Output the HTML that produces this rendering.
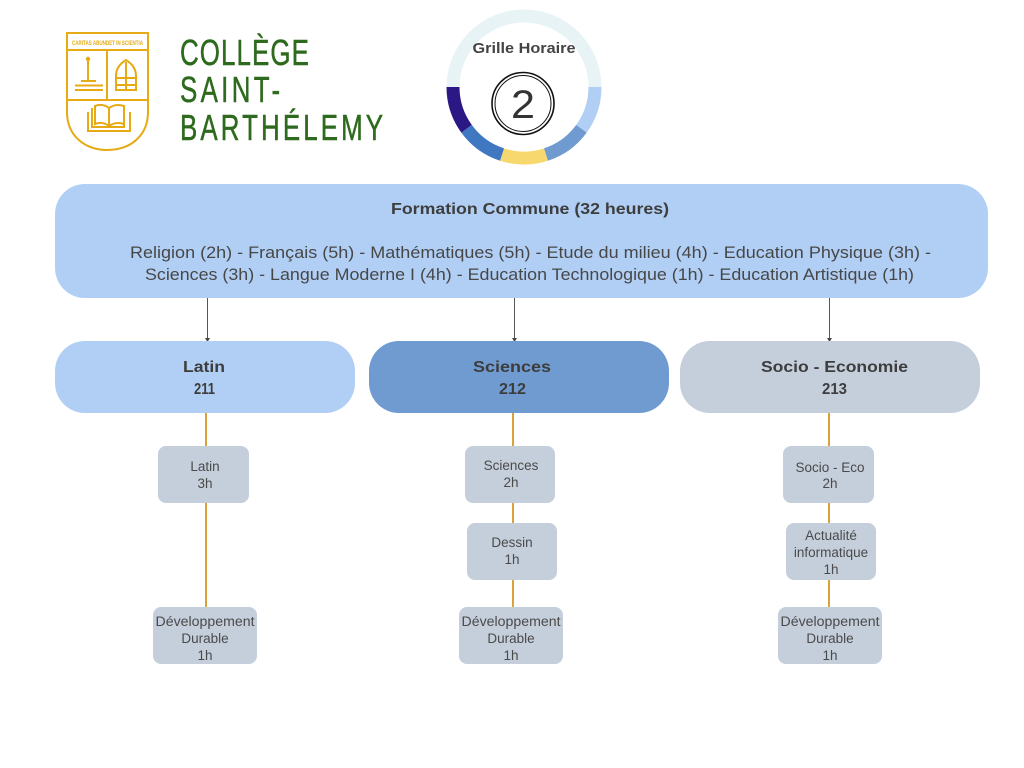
<!DOCTYPE html>
<html><head><meta charset="utf-8"><style>
html,body{margin:0;padding:0;background:#fff;}
svg{display:block;}
text{font-family:"Liberation Sans",sans-serif;}
</style></head><body>
<svg width="1024" height="768" viewBox="0 0 1024 768" xmlns="http://www.w3.org/2000/svg">
<rect width="1024" height="768" fill="#fff"/>

<!-- Shield logo -->
<g fill="none" stroke="#e6aa14" stroke-width="2">
  <path d="M67,33 H148 V112 C148,136 130,150 107.5,150 C85,150 67,136 67,112 Z"/>
  <line x1="67" y1="50" x2="148" y2="50"/>
  <line x1="67" y1="100" x2="148" y2="100"/>
  <line x1="107" y1="50" x2="107" y2="100"/>
  <!-- lectern -->
  <line x1="88" y1="60" x2="88" y2="81"/>
  <line x1="81" y1="81" x2="96" y2="81"/>
  <line x1="75" y1="85.5" x2="103" y2="85.5"/>
  <line x1="75" y1="90" x2="103" y2="90"/>
  <!-- mitre -->
  <path d="M116,90 V76 C116,68 121,63 126,60 C131,63 136,68 136,76 V90 Z"/>
  <line x1="126" y1="62" x2="126" y2="90"/>
  <line x1="116" y1="78" x2="136" y2="78"/>
  <line x1="116" y1="85" x2="136" y2="85"/>
  <!-- book -->
  <path d="M92,108 V127 H108 H124 V108"/>
  <path d="M95,106 C100,104 105,105 109,108 C113,105 118,104 124,106 V124 C118,122 113,123 109,126 C105,123 100,122 95,124 Z"/>
  <line x1="109" y1="108" x2="109" y2="126"/>
  <path d="M88,112 V131 H130 V112"/>
</g>
<circle cx="88" cy="59" r="2.2" fill="#e6aa14"/>
<text x="72" y="45" font-size="6.5" font-weight="bold" fill="#e6aa14" textLength="71" lengthAdjust="spacingAndGlyphs">CARITAS ABUNDET IN SCIENTIA</text>

<!-- College name -->
<g fill="#2e6a1e" stroke="#2e6a1e" stroke-width="0.5" font-size="36">
  <text transform="translate(180,65) scale(0.72,1)" x="0" y="0" textLength="179" lengthAdjust="spacing">COLLÈGE</text>
  <text transform="translate(180,102) scale(0.72,1)" x="0" y="0" textLength="139" lengthAdjust="spacing">SAINT-</text>
  <text transform="translate(180,140) scale(0.72,1)" x="0" y="0" textLength="282" lengthAdjust="spacing">BARTHÉLEMY</text>
</g>

<!-- Ring graphic -->
<g fill="none" stroke-width="13">
  <path d="M453,87 A71,71 0 0 1 595,87" stroke="#e8f3f5"/>
  <path d="M595,87 A71,71 0 0 1 581.44,128.75" stroke="#b1cff5"/>
  <path d="M581.44,128.75 A71,71 0 0 1 545.94,154.53" stroke="#6f9bd1"/>
  <path d="M545.94,154.53 A71,71 0 0 1 502.06,154.53" stroke="#f7d86f"/>
  <path d="M502.06,154.53 A71,71 0 0 1 466.56,128.75" stroke="#3f78c1"/>
  <path d="M466.56,128.75 A71,71 0 0 1 453,87" stroke="#2c1884"/>
</g>
<text x="524" y="53" font-size="15" font-weight="bold" fill="#444" text-anchor="middle" textLength="103" lengthAdjust="spacingAndGlyphs">Grille Horaire</text>
<circle cx="523" cy="103.5" r="31" fill="none" stroke="#111" stroke-width="1.6"/>
<circle cx="523" cy="103.5" r="28" fill="none" stroke="#111" stroke-width="1"/>
<text x="523" y="118" font-size="40" fill="#333" text-anchor="middle" textLength="24" lengthAdjust="spacingAndGlyphs">2</text>

<!-- Top box -->
<rect x="55" y="184" width="933" height="114" rx="30" ry="30" fill="#b1cff5"/>
<text x="530" y="214" font-size="16" font-weight="bold" fill="#3d3d3d" text-anchor="middle" textLength="278" lengthAdjust="spacingAndGlyphs">Formation Commune (32 heures)</text>
<text x="130" y="258" font-size="17" fill="#474747" textLength="801" lengthAdjust="spacingAndGlyphs">Religion (2h) - Français (5h) - Mathématiques (5h) - Etude du milieu (4h) - Education Physique (3h) -</text>
<text x="145" y="280" font-size="17" fill="#474747" textLength="769" lengthAdjust="spacingAndGlyphs">Sciences (3h) - Langue Moderne I (4h) - Education Technologique (1h) - Education Artistique (1h)</text>

<!-- Arrows -->
<g stroke="#555" stroke-width="1">
  <line x1="207.5" y1="298" x2="207.5" y2="338"/>
  <line x1="514.5" y1="298" x2="514.5" y2="338"/>
  <line x1="829.5" y1="298" x2="829.5" y2="338"/>
</g>
<g fill="#444">
  <path d="M205,338 L210,338 L207.5,342 Z"/>
  <path d="M512,338 L517,338 L514.5,342 Z"/>
  <path d="M827,338 L832,338 L829.5,342 Z"/>
</g>

<!-- Orange connectors -->
<g stroke="#d9a23c" stroke-width="2">
  <line x1="206" y1="412" x2="206" y2="608"/>
  <line x1="513" y1="412" x2="513" y2="608"/>
  <line x1="829" y1="412" x2="829" y2="608"/>
</g>

<!-- Branch boxes -->
<rect x="55" y="341" width="300" height="72" rx="30" ry="30" fill="#b1cff5"/>
<rect x="369" y="341" width="300" height="72" rx="30" ry="30" fill="#6f9bd1"/>
<rect x="680" y="341" width="300" height="72" rx="30" ry="30" fill="#c5cfdc"/>
<g font-size="16" font-weight="bold" fill="#3d3d3d" text-anchor="middle">
  <text x="204" y="372" textLength="42" lengthAdjust="spacingAndGlyphs">Latin</text>
  <text x="204.5" y="394" textLength="21" lengthAdjust="spacingAndGlyphs">211</text>
  <text x="512" y="372" textLength="78" lengthAdjust="spacingAndGlyphs">Sciences</text>
  <text x="512.5" y="394" textLength="27" lengthAdjust="spacingAndGlyphs">212</text>
  <text x="834.5" y="372" textLength="147" lengthAdjust="spacingAndGlyphs">Socio - Economie</text>
  <text x="834.5" y="394" textLength="25" lengthAdjust="spacingAndGlyphs">213</text>
</g>

<!-- Small boxes -->
<g fill="#c5cfdc">
  <rect x="158" y="446" width="91" height="57" rx="8"/>
  <rect x="153" y="607" width="104" height="57" rx="8"/>
  <rect x="465" y="446" width="90" height="57" rx="8"/>
  <rect x="467" y="523" width="90" height="57" rx="8"/>
  <rect x="459" y="607" width="104" height="57" rx="8"/>
  <rect x="783" y="446" width="91" height="57" rx="8"/>
  <rect x="786" y="523" width="90" height="57" rx="8"/>
  <rect x="778" y="607" width="104" height="57" rx="8"/>
</g>
<g font-size="13.5" fill="#4a4a4a" text-anchor="middle">
  <text x="205" y="471">Latin</text>
  <text x="205" y="488">3h</text>
  <text x="205" y="626" textLength="99" lengthAdjust="spacingAndGlyphs">Développement</text>
  <text x="205" y="643">Durable</text>
  <text x="205" y="660">1h</text>

  <text x="511" y="470">Sciences</text>
  <text x="511" y="487">2h</text>
  <text x="512" y="547">Dessin</text>
  <text x="512" y="564">1h</text>
  <text x="511" y="626" textLength="99" lengthAdjust="spacingAndGlyphs">Développement</text>
  <text x="511" y="643">Durable</text>
  <text x="511" y="660">1h</text>

  <text x="830" y="472">Socio - Eco</text>
  <text x="830" y="488">2h</text>
  <text x="831" y="540">Actualité</text>
  <text x="831" y="557">informatique</text>
  <text x="831" y="574">1h</text>
  <text x="830" y="626" textLength="99" lengthAdjust="spacingAndGlyphs">Développement</text>
  <text x="830" y="643">Durable</text>
  <text x="830" y="660">1h</text>
</g>
</svg>
</body></html>
